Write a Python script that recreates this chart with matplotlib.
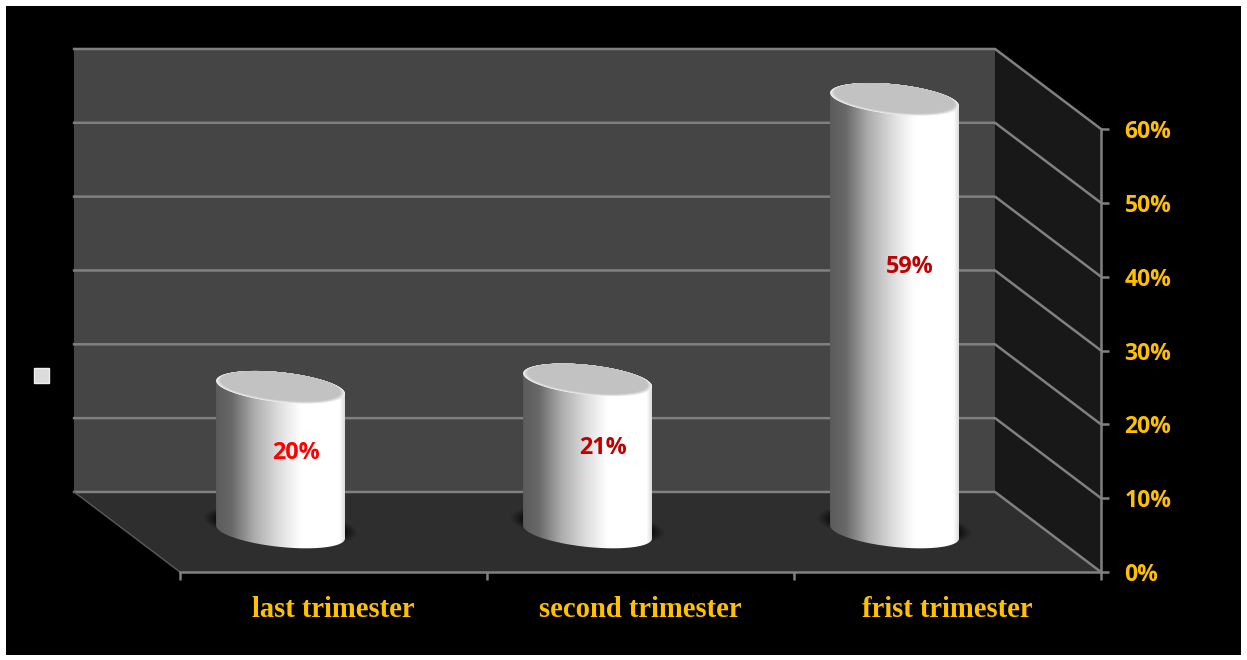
import numpy as np
import matplotlib
matplotlib.use('Agg')
import matplotlib.pyplot as plt
from matplotlib.patches import Polygon, Rectangle
from matplotlib.colors import LinearSegmentedColormap

categories = ['last trimester', 'second trimester', 'frist trimester']
values = [20, 21, 59]
value_labels = ['20%', '21%', '59%']
label_heights = [16.1, 16.8, 41.3]
label_colors = ['#ff0000', '#c00000', '#c00000']
y_ticks = [0, 10, 20, 30, 40, 50, 60]
y_tick_labels = ['0%', '10%', '20%', '30%', '40%', '50%', '60%']

GOLD = '#ffc000'
GREY = '#808080'
W, H = 1247, 660
# depth of the fake 3d box, in data units
DX, DY = -0.345, 10.84
HALF_W, ELL_B, ELL_S = 0.21, 2.03, -0.88

fig = plt.figure(figsize=(W / 100, H / 100), dpi=100, facecolor='white')
fig.patches.append(Rectangle((6 / W, 5 / H), 1235 / W, 649 / H, transform=fig.transFigure,
                             facecolor='black', edgecolor='none', figure=fig, zorder=-5))

ax = fig.add_axes([180 / W, (H - 572) / H, 921 / W, 443 / H])
ax.patch.set_visible(False)

# walls and floor
ax.add_patch(Polygon([(DX, DY), (3 + DX, DY), (3 + DX, 60 + DY), (DX, 60 + DY)],
                     facecolor='#454545', edgecolor='none', clip_on=False, zorder=1))
ax.add_patch(Polygon([(0, 0), (3, 0), (3 + DX, DY), (DX, DY)],
                     facecolor='#2e2e2e', edgecolor='none', clip_on=False, zorder=1))
ax.add_patch(Polygon([(3, 0), (3, 60), (3 + DX, 60 + DY), (3 + DX, DY)],
                     facecolor='#181818', edgecolor='none', clip_on=False, zorder=1))

for t in y_ticks:
    ax.plot([DX, 3 + DX, 3], [t + DY, t + DY, t], color=GREY, lw=1.8, clip_on=False, zorder=2)
ax.plot([DX, 0], [DY, 0], color='#5a5a5a', lw=1, clip_on=False, zorder=2)


def ellipse(cx, cy, scale=1.0, start=0, stop=2 * np.pi):
    t = np.linspace(start, stop, 120)
    x = cx + scale * HALF_W * np.cos(t)
    y = cy + scale * (ELL_B * np.sin(t) + ELL_S * np.cos(t))
    return np.column_stack([x, y])


body_cmap = LinearSegmentedColormap.from_list('body', [
    (0.0, '#5c5c5c'), (0.12, '#686868'), (0.3, '#adadad'), (0.5, '#e0e0e0'),
    (0.66, '#ffffff'), (0.96, '#ffffff'), (1.0, '#dcdcdc')])
gradient = np.linspace(0, 1, 256).reshape(1, -1)

for i, v in enumerate(values):
    cx = i + 0.5 + DX / 2
    base = DY / 2
    top = base + v - 0.4
    # soft shadow on the floor, a bit below the foot
    for s, a in zip(np.linspace(1.2, 1.0, 12), np.linspace(0.03, 0.12, 12)):
        sh = ellipse(cx, base + 0.9, s)
        ax.add_patch(Polygon(sh, facecolor='black', edgecolor='none', alpha=a, clip_on=False, zorder=3))
    # body
    lower = ellipse(cx, base, 1.0, np.pi, 2 * np.pi)
    upper = ellipse(cx, top, 1.0, 0, np.pi)
    clip = Polygon(np.vstack([lower, upper]), transform=ax.transData, facecolor='none', edgecolor='none')
    ax.add_patch(clip)
    clip.set_clip_on(False)
    im = ax.imshow(gradient, cmap=body_cmap, vmin=0, vmax=1, aspect='auto', zorder=4,
                   extent=[cx - HALF_W, cx + HALF_W, base - 4, top + 4])
    im.set_clip_box(fig.bbox)
    im.set_clip_path(clip)
    # top face: pale rim along the near edge only, flat grey further in
    for s, c in zip(np.linspace(1.0, 0.93, 10), np.linspace(0.95, 0.76, 10)):
        ax.add_patch(Polygon(ellipse(cx, top + (1 - s) * 2.03, s), facecolor=str(c),
                             edgecolor='none', clip_on=False, zorder=5))
    ax.text(i + 0.378, label_heights[i], value_labels[i], color=label_colors[i], ha='center', va='center',
            fontsize=16.8, fontweight='bold', family='Open Sans', zorder=6)

ax.set_xlim(0, 3)
ax.set_ylim(0, 60)
for side in ['top', 'left']:
    ax.spines[side].set_visible(False)
for side in ['right', 'bottom']:
    ax.spines[side].set_color(GREY)
    ax.spines[side].set_linewidth(1.8)
    ax.spines[side].set_zorder(2)

ax.yaxis.tick_right()
ax.set_yticks(y_ticks)
ax.set_yticklabels(y_tick_labels, color=GOLD, fontsize=16.5, fontweight='bold', family='Open Sans')
ax.set_xticks([0, 1, 2, 3])
ax.set_xticklabels([])
ax.set_xticks([0.5, 1.5, 2.5], minor=True)
ax.set_xticklabels(categories, minor=True, color=GOLD, fontsize=20.6, fontweight='bold', family='Liberation Serif')
ax.tick_params(axis='y', length=6, width=1.8, color=GREY, pad=11)
ax.tick_params(axis='x', which='major', length=6, width=1.8, color=GREY)
ax.tick_params(axis='x', which='minor', length=0, pad=17)

# little legend key with no text
fig.patches.append(Rectangle((34 / W, (H - 383) / H), 15 / W, 15 / H, transform=fig.transFigure,
                             facecolor='#dcdcdc', edgecolor='#efefef', lw=1, figure=fig))

fig.savefig('out.png', dpi=100, facecolor=fig.get_facecolor())
